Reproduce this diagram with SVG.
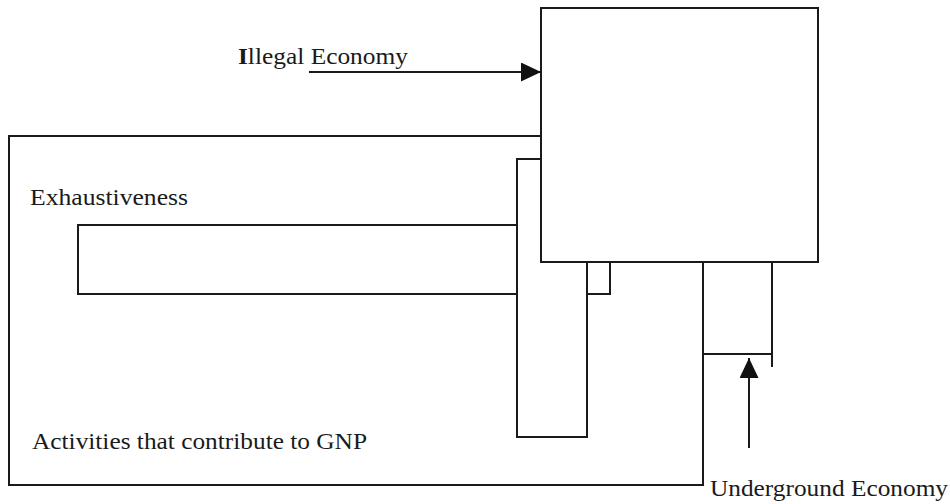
<svg xmlns="http://www.w3.org/2000/svg" width="950" height="504" viewBox="0 0 950 504">
  <style>
    .box { fill: #ffffff; stroke: #1a1a1a; stroke-width: 2; }
    .ln { fill: none; stroke: #1a1a1a; stroke-width: 2; }
    .lbl { font-family: "Liberation Serif", "Times New Roman", serif; font-size: 23px; fill: #1a1a1a; }
  </style>
  <defs>
    <marker id="head" markerWidth="20" markerHeight="20" refX="20" refY="9.5" orient="auto" markerUnits="userSpaceOnUse">
      <path d="M0,0 L20,9.5 L0,19 Z" fill="#111111"/>
    </marker>
  </defs>

  <rect width="950" height="504" fill="#ffffff"/>

  <!-- outer frame: activities counted in GNP -->
  <g id="gnp">
    <rect class="box" x="9" y="136" width="694" height="349"/>
    <text class="lbl" x="32" y="449" textLength="335" lengthAdjust="spacingAndGlyphs">Activities that contribute to GNP</text>
  </g>

  <!-- exhaustiveness band -->
  <g id="exhaustiveness">
    <rect class="box" x="78" y="225" width="532" height="69"/>
    <text class="lbl" x="30" y="205" textLength="158" lengthAdjust="spacingAndGlyphs">Exhaustiveness</text>
  </g>

  <!-- tall narrow column -->
  <g id="column">
    <rect class="box" x="517" y="159" width="70" height="278"/>
  </g>

  <!-- illegal economy block -->
  <g id="illegal">
    <rect class="box" x="541" y="8" width="277" height="254"/>
    <text class="lbl" x="238" y="64" textLength="170" lengthAdjust="spacingAndGlyphs"><tspan font-weight="bold">I</tspan>llegal Economy</text>
  </g>

  <!-- underground economy block -->
  <g id="underground">
    <path class="ln" d="M703,354 H772 M772,262 V367"/>
    <text class="lbl" x="710" y="496" textLength="238" lengthAdjust="spacingAndGlyphs">Underground Economy</text>
  </g>

  <g id="connectors">
    <line class="ln" x1="309" y1="72" x2="541" y2="72" marker-end="url(#head)"/>
    <line class="ln" x1="749" y1="448" x2="749" y2="358" marker-end="url(#head)"/>
  </g>
</svg>
